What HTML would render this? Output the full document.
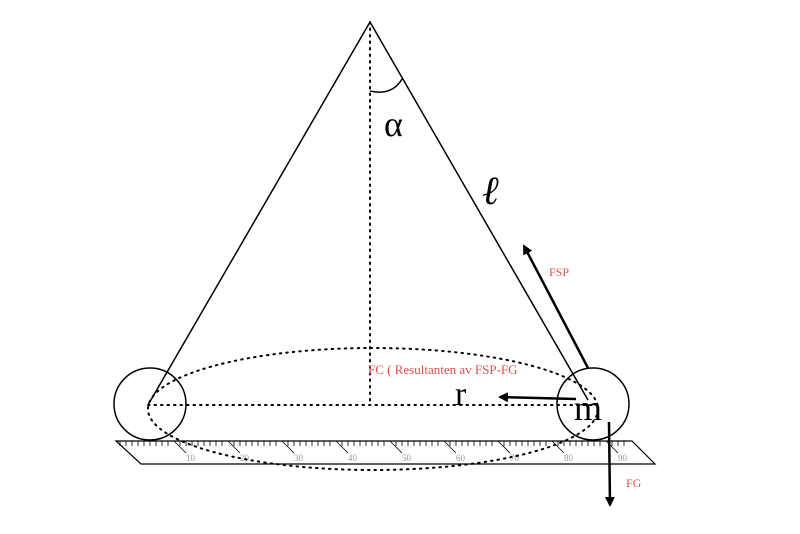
<!DOCTYPE html>
<html><head><style>body{margin:0;background:#fff}svg{display:block}</style></head><body>
<svg width="800" height="534" viewBox="0 0 800 534" xmlns="http://www.w3.org/2000/svg">
<defs><marker id="ah" markerWidth="10" markerHeight="10" refX="8" refY="5" orient="auto" markerUnits="userSpaceOnUse"><path d="M0,0 L10,5 L0,10 z" fill="#000"/></marker></defs>
<g fill="none" stroke="#000">
<path d="M116,441 L632,441 L655,464 L141,464 Z" stroke-width="1.2"/>
<g stroke-width="0.8">
<path d="M120,441v5M126,441v5M132,441v5M138,441v5M144,441v5M150,441v5M156,441v5M162,441v5M168,441v5M180,441v5M186,441v5M192,441v5M198,441v5M204,441v5M210,441v5M216,441v5M222,441v5M234,441v5M240,441v5M246,441v5M252,441v5M258,441v5M264,441v5M270,441v5M276,441v5M288,441v5M294,441v5M300,441v5M306,441v5M312,441v5M318,441v5M324,441v5M330,441v5M342,441v5M348,441v5M354,441v5M360,441v5M366,441v5M372,441v5M378,441v5M384,441v5M396,441v5M402,441v5M408,441v5M414,441v5M420,441v5M426,441v5M432,441v5M438,441v5M450,441v5M456,441v5M462,441v5M468,441v5M474,441v5M480,441v5M486,441v5M492,441v5M504,441v5M510,441v5M516,441v5M522,441v5M528,441v5M534,441v5M540,441v5M546,441v5M558,441v5M564,441v5M570,441v5M576,441v5M582,441v5M588,441v5M594,441v5M600,441v5M612,441v5M618,441v5M624,441v5"/>
<path d="M174,441l12,12M228,441l12,12M282,441l12,12M336,441l12,12M390,441l12,12M444,441l12,12M498,441l12,12M552,441l12,12M606,441l12,12"/>
</g>
</g>
<g font-family="Liberation Serif,serif" font-size="9" fill="#999">
<text x="186" y="461">10</text><text x="240" y="461">20</text><text x="294" y="461">30</text><text x="348" y="461">40</text><text x="402" y="461">50</text><text x="456" y="461">60</text><text x="510" y="461">70</text><text x="564" y="461">80</text><text x="618" y="461">90</text>
</g>
<g fill="none" stroke="#000">
<ellipse cx="373" cy="409" rx="225" ry="61" stroke-width="2" stroke-dasharray="1.5 5" stroke-linecap="round"/>
<line x1="370" y1="22" x2="370" y2="405" stroke-width="2" stroke-dasharray="1.5 5" stroke-linecap="round"/>
<line x1="148" y1="405" x2="594" y2="405" stroke-width="2" stroke-dasharray="1.5 5" stroke-linecap="round"/>
<circle cx="150" cy="404" r="36" stroke-width="1.5"/>
<circle cx="593" cy="404" r="36" stroke-width="1.5"/>
<line x1="370" y1="22" x2="148" y2="405" stroke-width="1.5"/>
<line x1="370" y1="22" x2="588" y2="400" stroke-width="1.5"/>
<path d="M370,91 Q392,96 402,79" stroke-width="1.5"/>
<line x1="588" y1="368" x2="524" y2="246" stroke-width="2.5" marker-end="url(#ah)"/>
<line x1="576" y1="399" x2="500" y2="397" stroke-width="2.5" marker-end="url(#ah)"/>
<line x1="609" y1="422" x2="610" y2="505" stroke-width="2.5" marker-end="url(#ah)"/>
</g>
<g font-family="Liberation Serif,serif">
<text x="384" y="136" font-size="36">α</text>
<text x="482" y="204" font-size="40" font-style="italic">ℓ</text>
<text x="455" y="405" font-size="34">r</text>
<text x="574" y="420" font-size="36">m</text>
<g fill="#d9504a" font-size="12">
<text x="549" y="276">FSP</text>
<text x="368" y="374" font-size="13">FC ( Resultanten av FSP-FG</text>
<text x="626" y="487">FG</text>
</g>
</g>
</svg>
</body></html>
